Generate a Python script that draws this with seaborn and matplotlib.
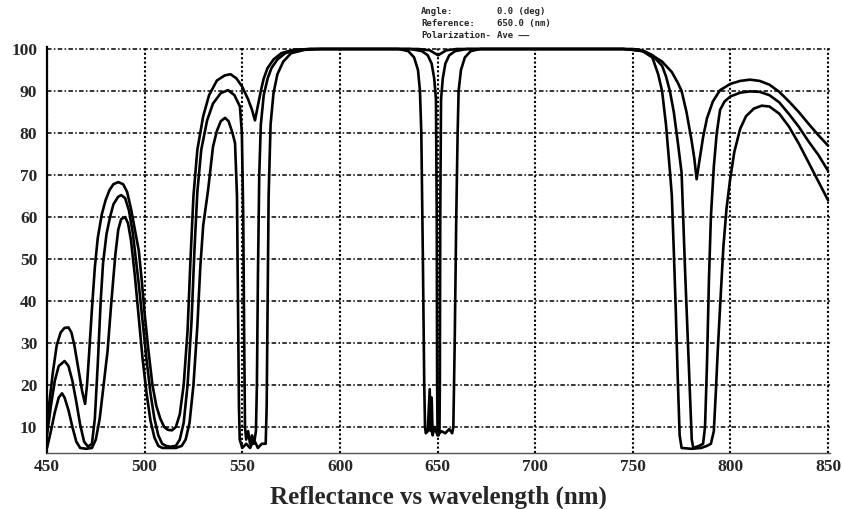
import numpy as np
import pandas as pd
import matplotlib
matplotlib.use("Agg")
import matplotlib.pyplot as plt
import seaborn as sns

# ---------------- data ----------------
wl_outer = [450, 451, 453, 455, 457, 459, 461, 462.5, 464, 466, 468, 469.5, 470.5, 471.5, 473, 474.5,
            476, 478, 480, 482, 484, 486.5, 489, 491, 493, 495, 497, 498.5, 500, 502, 504, 506, 508,
            510, 512, 514, 516, 518, 520, 522, 523.5, 525, 527, 530, 533, 537, 541, 544, 547, 550,
            553, 555, 556.5, 558, 559.5, 561, 563, 566, 570, 576, 585, 600, 640, 646, 648.5, 650.3,
            652, 654.5, 660, 700, 745, 750, 755, 760, 765, 770, 773, 775, 777.5, 780, 781.5, 782.7,
            784, 786, 788, 791, 794.7, 800, 805, 810, 815, 820, 825, 830, 835, 840, 845, 850]
r_outer = [10, 15, 23, 29.5, 32.5, 33.6, 33.7, 32.5, 29.5, 24, 18.5, 15.5, 20, 27, 38, 48,
           55, 60.5, 64, 66.4, 67.8, 68.3, 67.8, 66, 62, 57, 52, 45, 37, 28, 20, 15, 12,
           10, 9.3, 9.2, 10, 13, 20, 33, 50, 65, 76, 84, 89, 92.5, 93.7, 94, 93, 91,
           88, 85.5, 83, 86.5, 90, 93, 95.5, 97.5, 99, 99.8, 100, 100, 100, 99.7, 99, 98.5,
           99, 99.7, 100, 100, 100, 99.8, 99.5, 98.5, 97, 94.5, 92, 90, 85, 78.5, 74, 69,
           73, 79, 83.5, 87.5, 90.2, 91.7, 92.4, 92.7, 92.4, 91.5, 89.8, 87.5, 85, 82.2, 79.5, 77]

wl_middle = [450, 452, 454, 456, 459, 461, 463, 465, 467, 469, 471, 473, 474.5, 476, 477.5, 478.7,
             480.5, 482.3, 484, 486.4, 488, 490, 492, 494, 495, 497, 499, 501, 503, 505, 507, 509,
             511, 513, 516, 518, 520, 522, 524, 525.5, 527, 529, 532, 535, 539, 542.7, 546, 548.8,
             549.8, 550.5, 551, 551.4, 552, 553, 554, 555, 556, 557, 557.5, 558, 558.7, 559.5, 561,
             563, 565, 568, 572, 578, 585, 636, 642, 645, 647, 648.3, 649.2, 649.6, 649.8, 650,
             650.5, 651, 651.2, 651.4, 651.8, 652.7, 654, 656, 659, 665, 700, 750, 755, 760, 765,
             767, 769, 771, 773, 775, 776.8, 778.5, 780.2, 781, 784, 786, 787, 788, 789, 790, 791.5,
             793, 794.7, 797, 800, 805, 810, 815, 820, 825, 830, 835, 840, 845, 850]
r_middle = [8, 15, 21, 24.5, 25.7, 24.5, 21, 16, 10.5, 6.5, 5.3, 6, 12, 25, 40, 49,
            56, 60, 63, 64.8, 65.2, 64.5, 61.5, 56, 52, 44, 35, 26, 18, 12, 8, 6,
            5.5, 5.3, 5.5, 7, 11, 20, 35, 52, 66, 76, 83, 87, 89.5, 90.2, 89, 86.3,
            80, 60, 30, 10, 7, 9, 6, 8, 6, 9, 20, 45, 70, 82, 89,
            93, 95.5, 97.5, 99, 99.8, 100, 100, 99.5, 98.5, 96.5, 93, 88, 60, 20, 9,
            8, 9, 20, 60, 88, 93, 96.5, 98.5, 99.5, 100, 100, 100, 99.7, 98.5, 96,
            93.5, 90, 85, 78, 70.5, 47, 27, 7, 5, 5.5, 6, 10, 25, 45, 60, 72,
            80, 85.5, 87.5, 88.7, 89.6, 89.9, 89.8, 89, 87.3, 84.5, 81.5, 78, 74.8, 71]

wl_inner = [450, 452, 454, 456, 457.7, 459, 461, 463, 465, 467, 470, 473, 475, 477, 479, 481,
            483, 485, 486.5, 488, 490, 491.5, 493, 495, 497, 499, 501, 503, 505, 507, 509, 513,
            516, 519, 521, 523, 525, 527, 528.5, 530, 532.5, 535, 537, 539, 541.2, 543, 545,
            546.3, 547.3, 547.8, 548.3, 548.7, 550, 552, 554, 556, 558, 560, 562, 562.5, 563,
            563.5, 564.5, 566, 568, 571, 575, 582, 590, 630, 635, 638, 640, 641, 641.7, 642.5,
            643.2, 643.6, 644, 645, 646, 646.5, 647, 647.5, 648.5, 650, 652, 654, 656, 657.5,
            658.1, 658.8, 659.6, 660.3, 660.8, 662, 664, 667, 672, 700, 745, 750, 755, 760, 763,
            765, 767, 769, 770, 771, 772, 773, 774, 775, 780, 785, 788, 790, 791.5, 792.5, 793.5,
            794.7, 796.4, 798, 799.8, 802, 805, 808, 812, 816, 820, 825, 830, 835, 840, 845, 850]
r_inner = [5, 9, 13.5, 17, 18, 17, 14, 10, 6.5, 5, 4.8, 5, 7, 12, 20, 28,
           40, 51, 57, 59.5, 60, 58.5, 54.5, 46, 36, 26, 18, 11.5, 7.5, 5.5, 5, 5,
           5, 5.5, 7, 11, 20, 34, 48, 58, 66.4, 76.7, 80.5, 82.8, 83.6, 82.8, 80,
           77.6, 65, 40, 15, 7, 5, 6, 5, 7, 5, 6, 6, 15, 40,
           65, 82, 89.5, 94, 97, 99, 99.8, 100, 100, 99.5, 98, 95, 90, 80, 50,
           20, 10, 8.5, 9, 19, 9, 17, 8, 10, 8, 9, 8.5, 9.5, 8.5,
           10, 30, 60, 80, 90, 95, 98, 99.5, 100, 100, 100, 99.8, 99.5, 98, 94,
           90, 82, 71, 65, 52, 38, 22, 8, 5, 4.8, 5, 5.5, 6, 9, 18, 28,
           38.6, 52.9, 62, 68.8, 75.5, 81, 84, 85.8, 86.5, 86.3, 84.6, 81.5, 77.5, 73, 68.5, 64]

y_ticks = [10, 20, 30, 40, 50, 60, 70, 80, 90, 100]
x_ticks = [450, 500, 550, 600, 650, 700, 750, 800, 850]
x_label = "Reflectance vs wavelength (nm)"
info_labels = ["Angle:", "Reference:", "Polarization-"]
info_values = ["0.0 (deg)", "650.0 (nm)", "Ave ——"]

df = pd.concat([
    pd.DataFrame({"wl": wl_outer, "R": r_outer, "curve": "outer"}),
    pd.DataFrame({"wl": wl_middle, "R": r_middle, "curve": "middle"}),
    pd.DataFrame({"wl": wl_inner, "R": r_inner, "curve": "inner"}),
], ignore_index=True)

# ---------------- figure ----------------
sns.set_style("white")
W, H = 842, 509
fig = plt.figure(figsize=(W / 100, H / 100), dpi=100)
ax = fig.add_axes([47 / W, 56 / H, 783 / W, 406.1 / H])

sns.lineplot(data=df, x="wl", y="R", hue="curve", units="curve", estimator=None,
             palette=["black", "black", "black"], linewidth=1.9, legend=False, ax=ax,
             zorder=3)

ax.set_xlim(450, 851)
ax.set_ylim(3.8, 100.5)
ax.set_xticks(x_ticks)
ax.set_yticks(y_ticks)

serif = "Liberation Serif"
for lab in ax.get_xticklabels() + ax.get_yticklabels():
    lab.set_fontfamily(serif)
    lab.set_fontweight("bold")
    lab.set_fontsize(12.5)
ax.tick_params(axis="both", length=0)
ax.tick_params(axis="x", pad=4)
ax.tick_params(axis="y", pad=7)

ax.set_xlabel(x_label, fontfamily=serif, fontweight="bold", fontsize=18, labelpad=8)
ax.set_ylabel("")

ax.yaxis.grid(True, color="black", linewidth=1.1, linestyle=(0, (3, 1.5, 1, 1.5)))
ax.xaxis.grid(True, color="black", linewidth=1.5, linestyle=(0, (1, 1.1)))
ax.set_axisbelow(True)

for s in ["top", "right"]:
    ax.spines[s].set_visible(False)
ax.spines["left"].set_color("black")
ax.spines["left"].set_linewidth(1.6)
ax.spines["bottom"].set_color("#555555")
ax.spines["bottom"].set_linewidth(1.0)

# info block at the top
for i, (a, b) in enumerate(zip(info_labels, info_values)):
    yy = 1 - (12 + 11.5 * i) / H
    fig.text(421 / W, yy, a, fontsize=6.5, fontweight="bold", family="DejaVu Sans Mono",
             va="center", ha="left")
    fig.text(497 / W, yy, b, fontsize=6.5, fontweight="bold", family="DejaVu Sans Mono",
             va="center", ha="left")

fig.savefig("out.png", dpi=100, facecolor="white")
